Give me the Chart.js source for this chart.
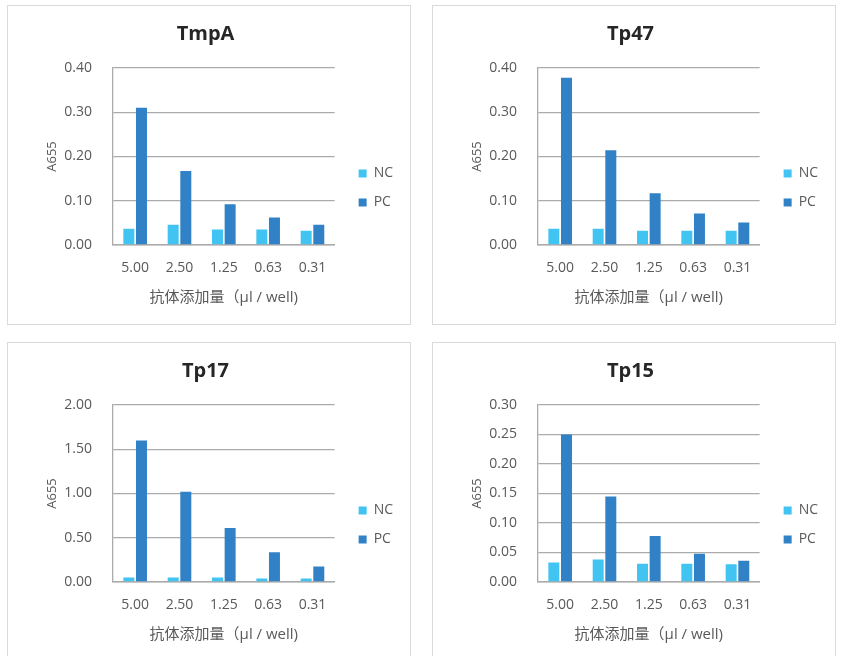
<!DOCTYPE html>
<html>
<head>
<meta charset="utf-8">
<script src="https://cdn.jsdelivr.net/npm/chart.js@4"></script>
<style>
  html, body { margin: 0; padding: 0; background: #fff; overflow: hidden; }
  body { width: 841px; height: 656px; position: relative; }
  .panel { position: absolute; width: 404px; height: 320px; box-sizing: border-box; border: 1px solid #d9d9d9; background: #fff; }
  canvas { display: block; }
</style>
</head>
<body>
<div class="panel" style="left:7px; top:5px;"><canvas id="c1" width="402" height="318"></canvas></div>
<div class="panel" style="left:432px; top:5px;"><canvas id="c2" width="402" height="318"></canvas></div>
<div class="panel" style="left:7px; top:342px;"><canvas id="c3" width="402" height="318"></canvas></div>
<div class="panel" style="left:432px; top:342px;"><canvas id="c4" width="402" height="318"></canvas></div>
<script>
const categories = ['5.00', '2.50', '1.25', '0.63', '0.31'];
const seriesNames = ['NC', 'PC'];

const tmpaNC = [0.037, 0.046, 0.035, 0.035, 0.032];
const tmpaPC = [0.310, 0.167, 0.092, 0.062, 0.046];
const tp47NC = [0.037, 0.037, 0.032, 0.032, 0.032];
const tp47PC = [0.378, 0.214, 0.117, 0.071, 0.051];
const tp17NC = [0.05, 0.05, 0.05, 0.04, 0.04];
const tp17PC = [1.60, 1.02, 0.61, 0.335, 0.175];
const tp15NC = [0.033, 0.038, 0.031, 0.031, 0.030];
const tp15PC = [0.250, 0.145, 0.078, 0.048, 0.036];

const yAxisTitle = 'A655';
const xAxisTitle = '抗体添加量（μl / well)';

const FONT = "'Open Sans', 'Noto Sans CJK SC', sans-serif";
const TEXT = '#595959';
const GRID = '#ababab';

function makeChart(id, title, nc, pc, max, step) {
  new Chart(document.getElementById(id).getContext('2d'), {
    type: 'bar',
    data: {
      labels: categories,
      datasets: [
        { label: seriesNames[0], data: nc, backgroundColor: '#41c4f2', borderWidth: 0 },
        { label: seriesNames[1], data: pc, backgroundColor: '#3181c6', borderWidth: 0 }
      ]
    },
    options: {
      responsive: false,
      animation: false,
      categoryPercentage: 0.57,
      barPercentage: 0.87,
      layout: { padding: { left: 0, top: 0, right: 7, bottom: 0 } },
      plugins: {
        tooltip: { enabled: false },
        title: {
          display: true,
          text: title,
          color: '#262626',
          font: { family: FONT, size: 20, weight: 'bold' },
          padding: { top: 16, bottom: 22 }
        },
        legend: {
          position: 'right',
          align: 'center',
          title: { display: true, text: ' ', font: { size: 10 }, padding: { top: 34, bottom: 0 } },
          labels: {
            boxWidth: 8,
            boxHeight: 8,
            padding: 15,
            color: TEXT,
            font: { family: FONT, size: 14 }
          }
        }
      },
      scales: {
        x: {
          grid: { display: false },
          border: { display: true, color: GRID, width: 1.5 },
          ticks: { color: TEXT, font: { family: FONT, size: 14 }, padding: 7, maxRotation: 0 },
          title: {
            display: true,
            text: xAxisTitle,
            color: TEXT,
            font: { family: FONT, size: 15 },
            padding: { top: 0, bottom: 17 }
          },
          afterFit(s) { s.height = 79; }
        },
        y: {
          min: 0,
          max: max,
          grid: { color: GRID, lineWidth: 1.3, drawTicks: false },
          border: { display: true, color: GRID, width: 1.3 },
          ticks: {
            stepSize: step,
            color: TEXT,
            font: { family: FONT, size: 14 },
            padding: 21,
            callback: v => v.toFixed(2)
          },
          title: {
            display: true,
            text: yAxisTitle,
            color: TEXT,
            font: { family: FONT, size: 13 },
            padding: { top: 36, bottom: 0 }
          },
          afterFit(s) { s.width = 105; }
        },
        gap: {
          type: 'linear',
          position: 'right',
          display: true,
          grid: { display: false },
          border: { display: false },
          ticks: { display: false },
          afterFit(s) { s.width = 9; }
        }
      }
    }
  });
}

makeChart('c1', 'TmpA', tmpaNC, tmpaPC, 0.4, 0.1);
makeChart('c2', 'Tp47', tp47NC, tp47PC, 0.4, 0.1);
makeChart('c3', 'Tp17', tp17NC, tp17PC, 2.0, 0.5);
makeChart('c4', 'Tp15', tp15NC, tp15PC, 0.3, 0.05);
</script>
</body>
</html>
